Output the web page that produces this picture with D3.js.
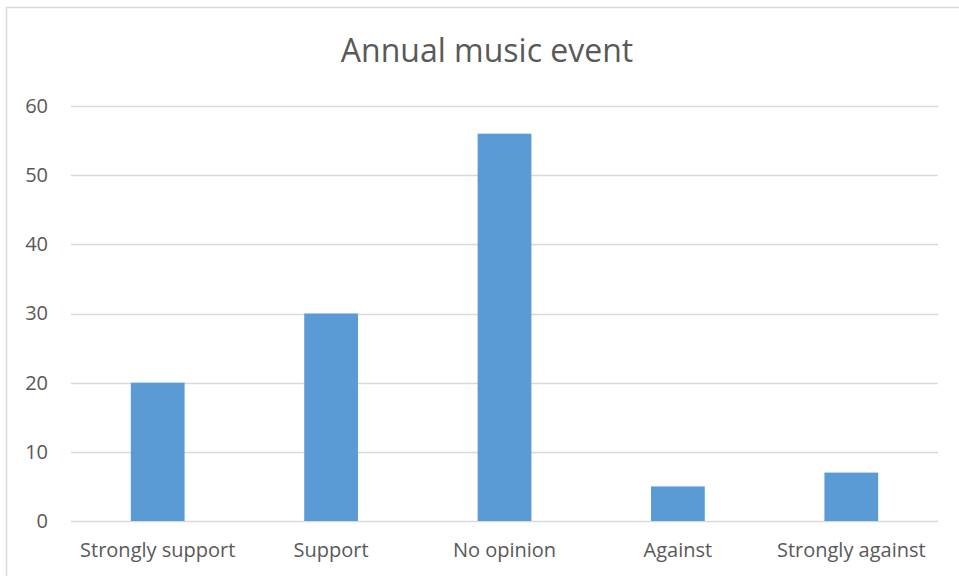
<!DOCTYPE html>
<html>
<head>
<meta charset="utf-8">
<script src="https://cdn.jsdelivr.net/npm/d3@7"></script>
<style>
  html, body { margin: 0; padding: 0; background: #fff; }
  svg { display: block; font-family: "Open Sans", "Noto Sans", sans-serif; }
</style>
</head>
<body>
<div id="chart"></div>
<script>
const categories = ["Strongly support", "Support", "No opinion", "Against", "Strongly against"];
const values = [20, 30, 56, 5, 7];
const yTicks = [0, 10, 20, 30, 40, 50, 60];
const title = "Annual music event";

const W = 959, H = 576;
const margin = { top: 106, right: 21, bottom: 55, left: 71 };
const width = W - margin.left - margin.right;
const height = H - margin.top - margin.bottom;

const svg = d3.select("#chart")
  .append("svg")
  .attr("width", W)
  .attr("height", H);

// chart frame
svg.append("rect")
  .attr("x", 6.5)
  .attr("y", 7.5)
  .attr("width", W)
  .attr("height", H)
  .attr("fill", "none")
  .attr("stroke", "#d9d9d9")
  .attr("stroke-width", 1.5);

svg.append("text")
  .attr("x", 487)
  .attr("y", 62)
  .attr("text-anchor", "middle")
  .attr("font-size", "32px")
  .attr("fill", "#595959")
  .text(title);

const g = svg.append("g")
  .attr("transform", `translate(${margin.left},${margin.top})`);

const xScale = d3.scaleBand()
  .domain(categories)
  .range([0, width])
  .paddingInner(0.69)
  .paddingOuter(0.345);

const yScale = d3.scaleLinear()
  .domain([0, 60])
  .range([height, 0]);

// gridlines
g.append("g")
  .selectAll("line")
  .data(yTicks)
  .enter()
  .append("line")
  .attr("x1", 0)
  .attr("x2", width)
  .attr("y1", d => Math.round(yScale(d)) + 0.5)
  .attr("y2", d => Math.round(yScale(d)) + 0.5)
  .attr("stroke", "#d9d9d9")
  .attr("stroke-width", 1.5);

const yAxis = g.append("g")
  .call(d3.axisLeft(yScale).tickValues(yTicks).tickSize(0).tickPadding(23));
yAxis.select(".domain").remove();
yAxis.selectAll("text")
  .attr("font-size", "20px")
  .attr("font-family", "\"Open Sans\", sans-serif")
  .attr("fill", "#595959");

g.selectAll(".bar")
  .data(values)
  .enter()
  .append("rect")
  .attr("class", "bar")
  .attr("x", (d, i) => xScale(categories[i]))
  .attr("width", xScale.bandwidth())
  .attr("y", d => yScale(d))
  .attr("height", d => height - yScale(d))
  .attr("fill", "#5b9bd5");

const xAxis = g.append("g")
  .attr("transform", `translate(0,${height})`)
  .call(d3.axisBottom(xScale).tickSize(0).tickPadding(22));
xAxis.select(".domain").remove();
xAxis.selectAll("text")
  .attr("font-size", "20px")
  .attr("font-family", "\"Open Sans\", sans-serif")
  .attr("fill", "#595959");
</script>
</body>
</html>
